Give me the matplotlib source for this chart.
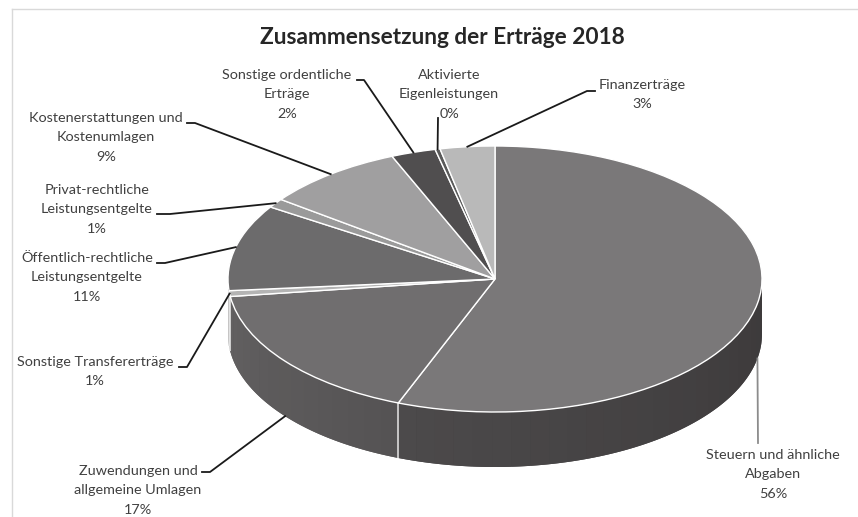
import numpy as np
import matplotlib
matplotlib.use("Agg")
import matplotlib.pyplot as plt

W, H = 858, 517
title = "Zusammensetzung der Erträge 2018"
labels = ["Steuern und ähnliche\nAbgaben", "Zuwendungen und\nallgemeine Umlagen", "Sonstige Transfererträge",
          "Öffentlich-rechtliche\nLeistungsentgelte", "Privat-rechtliche\nLeistungsentgelte",
          "Kostenerstattungen und\nKostenumlagen", "Sonstige ordentliche\nErträge",
          "Aktivierte\nEigenleistungen", "Finanzerträge"]
values = [55.9, 17.0, 0.7, 10.5, 1.1, 8.5, 2.7, 0.3, 3.3]
percent_text = ["56%", "17%", "1%", "11%", "1%", "9%", "2%", "0%", "3%"]
top_colors = ["#7a7879", "#706e6f", "#b4b4b4", "#6c6b6c", "#9a9a9a", "#a09fa0", "#504e4f", "#5a5a5a", "#b9b9b9"]
side_start = ["#3c393a", "#555354", "#a8a8a8", "#5e5c5d", "#808080", "#808080", "#404040", "#404040", "#909090"]
side_end = ["#4c4a4b", "#626061", "#a8a8a8", "#5e5c5d", "#808080", "#808080", "#404040", "#404040", "#909090"]

# pixel geometry of the ellipse
CX, CY, RX, RY, DEPTH = 495, 279, 267, 133, 55

# label layout: centre x, first-line y, leader start points
label_xy = [(773, 455), (138, 471), (95, 362), (87, 258), (97, 190), (106, 118), (287, 75), (449, 75), (642, 85)]
leader_start = [[(758, 443)], [(202, 472), (210, 472)], [(179, 367), (187, 367)], [(157, 263), (165, 263)],
                [(157, 214), (170, 214)], [(187, 123), (195, 123)], [(357, 80), (364, 80)], [(438, 118)],
                [(595, 91), (587, 91)]]
leader_color = ["#8c8c8c"] + ["#1a1a1a"] * 8
TXT = "#404040"
plt.rcParams["font.family"] = ["Lato", "DejaVu Sans"]

fig = plt.figure(figsize=(W / 100, H / 100), dpi=100, facecolor="white")

# --- pie axes: one data unit = RX px horizontally, RY px vertically
ax = fig.add_axes([0, 0, 1, 1])
cx, cy = CX / RX, -CY / RY
depth = DEPTH / RY


def hex2rgb(c):
    return np.array(matplotlib.colors.to_rgb(c))


edges = np.concatenate([[0], np.cumsum(values)]) / np.sum(values) * 360

# visible side wall (clockwise angles 90..270 from the top)
for i in range(len(values)):
    a0, a1 = max(edges[i], 90), min(edges[i + 1], 270)
    if a1 <= a0:
        continue
    c0, c1 = hex2rgb(side_start[i]), hex2rgb(side_end[i])
    # solid base under the whole slice, so the strips leave no visible seams
    aa = np.linspace(a0, a1, 200)
    xs = cx + np.sin(np.radians(aa))
    ys = cy + np.cos(np.radians(aa))
    ax.fill(np.r_[xs, xs[::-1]], np.r_[ys, ys[::-1] - depth], color=(c0 + c1) / 2, lw=0, zorder=1)
    n = max(int((a1 - a0) / 4), 1)
    steps = np.linspace(a0, a1, n + 1)
    for k in range(n):
        t = (k + 0.5) / n
        aa = np.linspace(steps[k], steps[k + 1], 12)
        xs = cx + np.sin(np.radians(aa))
        ys = cy + np.cos(np.radians(aa))
        ax.fill(np.r_[xs, xs[::-1]], np.r_[ys, ys[::-1] - depth], facecolor=(1 - t) * c0 + t * c1,
                edgecolor="none", lw=0, zorder=1.5)
    # light seam at the start of the slice, if visible
    if 90 < edges[i] < 270:
        xe = cx + np.sin(np.radians(edges[i]))
        ye = cy + np.cos(np.radians(edges[i]))
        ax.plot([xe, xe], [ye, ye - depth], color="#e6e6e6", lw=1.1, zorder=2, solid_capstyle="butt")

# top face
wedges, _ = ax.pie(values, colors=top_colors, startangle=90, counterclock=False, radius=1,
                   center=(cx, cy), wedgeprops=dict(edgecolor="white", linewidth=1.0))
for w in wedges:
    w.set_zorder(3)
ax.set_aspect("auto")
ax.set_xlim(0, W / RX)
ax.set_ylim(-H / RY, 0)
ax.axis("off")

# --- overlay in pixel coordinates
ov = fig.add_axes([0, 0, 1, 1], facecolor="none")
ov.set_xlim(0, W)
ov.set_ylim(H, 0)
ov.axis("off")

ov.plot([11.5, 11.5], [517, 8.5], color="#d9d9d9", lw=1.0)
ov.plot([11.5, 858], [8.5, 8.5], color="#d9d9d9", lw=1.0)

ov.text(442, 38, title, ha="center", va="center", fontsize=16.3, fontweight="bold", color="#262626")

mids = (edges[:-1] + edges[1:]) / 2
for i, (lab, pct) in enumerate(zip(labels, percent_text)):
    x, y = label_xy[i]
    for j, line in enumerate((lab + "\n" + pct).split("\n")):
        ov.text(x, y + j * 19.3, line, ha="center", va="center", fontsize=10.4, color=TXT)
    ex = CX + RX * np.sin(np.radians(mids[i]))
    ey = CY - RY * np.cos(np.radians(mids[i]))
    if i < 2:
        ey += DEPTH
    pts = leader_start[i] + [(ex, ey)]
    ov.plot([p[0] for p in pts], [p[1] for p in pts], color=leader_color[i], lw=1.3, zorder=5)

fig.savefig("out.png", dpi=100)
